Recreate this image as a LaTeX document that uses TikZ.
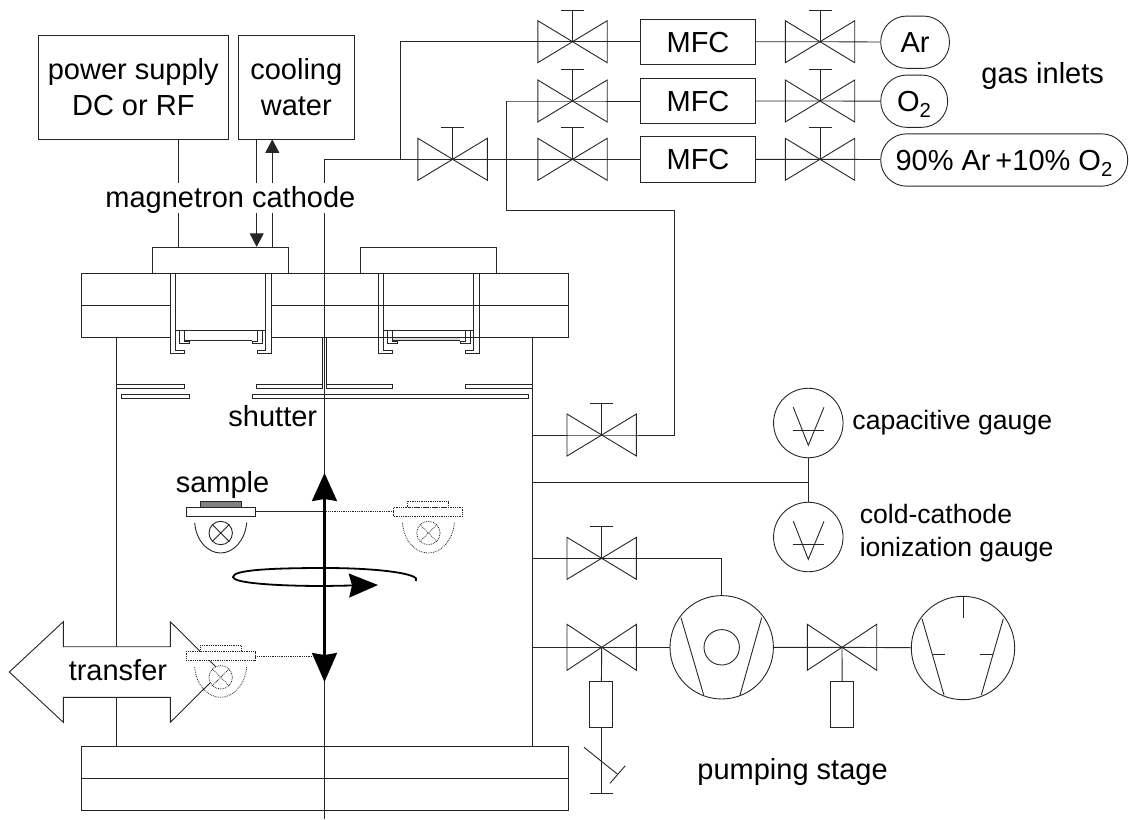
\documentclass[tikz,border=0pt]{standalone}
\usepackage{fontspec}
\setmainfont{Liberation Sans}
\usetikzlibrary{arrows.meta}

\newcommand{\valve}[4]{
    \coordinate (#1) at (#2,#3);
    \draw ([shift={(-34.7,-#4)}]#1) -- ([shift={(34.7,#4)}]#1) -- ([shift={(34.7,-#4)}]#1) -- ([shift={(-34.7,#4)}]#1) -- cycle;
}
\newcommand{\knob}[1]{
    \draw (#1) -- ([shift={(0,-31.7)}]#1);
    \draw ([shift={(-11.5,-31.7)}]#1) -- ([shift={(11.5,-31.7)}]#1);
}
\newcommand{\holder}[5]{
    \begin{scope}[shift={(#2,#3)},#4]
        \node[tray] (#1) at (220.5,511.7) {};
        \draw[fill=#5] (200,501) rectangle (241,507.3);
        \draw (194.7,522.7) .. controls (196,541) and (208,553) .. (220.7,553) .. controls (233,553) and (245,541) .. (246.7,522.7);
        \node[wheel] (#1w) at (220.7,533) {};
        \draw (#1w.45) -- (#1w.225);
        \draw (#1w.135) -- (#1w.-45);
    \end{scope}
}

\begin{document}
\begin{tikzpicture}[
    x=1pt, y=-1pt,
    line width=0.9pt, black!85,
    box/.style={rectangle, draw, inner sep=0pt, text=black, align=center},
    mfc/.style={box, minimum width=115pt, minimum height=45.4pt, text height=20.8pt, text depth=0pt},
    bottle/.style={box, rounded corners=26pt, minimum height=52.3pt, text height=20.8pt, text depth=0pt},
    pump/.style={circle, draw, inner sep=0pt, minimum size=103.4pt},
    gauge/.style={circle, draw, inner sep=0pt, minimum size=69.5pt},
    stub/.style={rectangle, draw, inner sep=0pt, minimum width=23pt, minimum height=45.6pt},
    tray/.style={rectangle, draw, fill=white, inner sep=0pt, minimum width=69pt, minimum height=8.7pt},
    wheel/.style={circle, draw, fill=white, inner sep=0pt, minimum size=23.4pt},
    label/.style={anchor=base west, inner sep=0pt, text=black},
    ghost/.style={densely dotted, line width=0.8pt},
    thinflow/.style={-{Triangle[length=13.5pt,width=14pt]}},
    motion/.style={line width=2.2pt, black},
    font=\fontsize{29}{36}\selectfont
]
    \useasboundingbox (0,0) rectangle (1129,819);
    % Supplies
    \node[box, minimum width=189.6pt, minimum height=103.3pt] (power) at (133.3,87.3) {power supply\\DC or RF};
    \node[box, minimum width=116pt, minimum height=103.3pt] (water) at (296.3,87.3) {cooling\\water};
    % Chamber
    \draw (116.7,337.7) -- (116.7,746);
    \draw (532.7,337.7) -- (532.7,746);
    \draw (81.3,273.7) rectangle (568.7,337.7);
    \draw (81.3,305.7) -- (568.7,305.7);
    \draw (81.3,746.5) rectangle (568.7,810);
    \draw (81.3,778.5) -- (568.7,778.5);
    \node[box, minimum width=136.4pt, minimum height=26.4pt] (plate1) at (220.5,260.5) {};
    \node[box, minimum width=136.4pt, minimum height=26.4pt] (plate2) at (428.5,260.5) {};
    % Cathodes
    \fill[white] (170.7,274.2) rectangle (271,353);
    \foreach \xs in {0,208} {
        \begin{scope}[shift={(\xs,0)}]
            \draw (170.7,273.7) -- (170.7,353.3) -- (184.7,353.3) -- (184.7,350.3) -- (175.7,350.3) -- (175.7,273.7);
            \draw (271,273.7) -- (271,353.3) -- (257,353.3) -- (257,350.3) -- (265.7,350.3) -- (265.7,273.7);
            \draw (175.7,330) -- (265.7,330);
            \draw (179.3,330) -- (179.3,343.7) -- (189.7,343.7) -- (189.7,341) -- (184.7,341) -- (184.7,330);
            \draw (262.4,330) -- (262.4,343.7) -- (252,343.7) -- (252,341) -- (257,341) -- (257,330);
            \draw (184.7,340) -- (252,340);
        \end{scope}
    }
    \fill[black!15] (392.9,338.2) rectangle (459.8,339.6);
    % Shutter and apertures
    \draw (116.7,384) rectangle (184.7,388.3);
    \draw (256.7,384) rectangle (322.3,388.3);
    \draw (326.7,384) rectangle (392.7,388.3);
    \draw (465,384) rectangle (532.7,388.3);
    \draw (121.3,394) rectangle (189.3,398.3);
    \draw (252.3,394) rectangle (528,398.3);
    \draw (322.3,337.7) -- (322.3,384);
    \draw (326.7,337.7) -- (326.7,384);
    % Gas lines
    \coordinate (axis) at (324.5,159.3);
    \coordinate (axisend) at (324.5,819);
    \coordinate (branch) at (400,159.3);
    \coordinate (bendA) at (400,41.7);
    \coordinate (bendB) at (506.6,101);
    \coordinate (bendC) at (506.6,210);
    \coordinate (bendD) at (674.8,210);
    \coordinate (bendE) at (674.8,435);
    \coordinate (wallE) at (532.7,435);
    \draw (axis) -- (axisend);
    \valve{vmain}{452.6}{159.3}{21}
    \knob{vmain}
    \foreach \row/\yy in {a/41.7,b/101,c/159.3} {
        \valve{vin\row}{572.5}{\yy}{21}
        \knob{vin\row}
        \valve{vout\row}{820}{\yy}{21}
        \knob{vout\row}
        \node[mfc] (mfc\row) at (698,\yy) {MFC};
    }
    \node[bottle, minimum width=68.8pt] (gasa) at (915.1,42.2) {Ar};
    \node[bottle, minimum width=66.9pt] (gasb) at (914.2,101.2) {O\textsubscript{2}};
    \node[bottle, minimum width=247pt] (gasc) at (1004.2,160) {90\% Ar\,+10\% O\textsubscript{2}};
    \draw (axis) -- (branch) -- (vmain) -- (vinc) -- (mfcc);
    \draw (branch) -- (bendA) -- (vina) -- (mfca);
    \draw (bendB) -- (vinb) -- (mfcb);
    \foreach \row in {a,b,c} {
        \draw (mfc\row) -- (vout\row) -- (gas\row);
    }
    \valve{vback}{601.7}{435}{21}
    \knob{vback}
    \draw (bendB) -- (bendC) -- (bendD) -- (bendE) -- (vback) -- (wallE);
    % Cathode feeds
    \draw (power.south -| 178.7,0) -- (plate1.north -| 178.7,0);
    \draw[thinflow] (water.south -| 256.7,0) -- (plate1.north -| 256.7,0);
    \draw[thinflow] (plate1.north -| 272.3,0) -- (water.south -| 272.3,0);
    \node[anchor=base west, inner sep=0pt, fill=white, text=black, text height=24.7pt, text depth=5.3pt] (magnetron) at (105,207.7) {magnetron cathode};
    % Gauges
    \node[gauge] (gcap) at (808.3,423) {};
    \node[gauge] (gcold) at (808.3,537) {};
    \foreach \g in {gcap,gcold} {
        \draw ([shift={(-15,-15.7)}]\g.center) -- ([shift={(0,22.3)}]\g.center) -- ([shift={(15.7,-15.7)}]\g.center);
        \draw ([shift={(-15.7,7.7)}]\g.center) -- ([shift={(15.7,7.7)}]\g.center);
    }
    \coordinate (tee) at (808.3,482.7);
    \coordinate (wallG) at (532.7,482.7);
    \draw (gcap) -- (gcold);
    \draw (wallG) -- (tee);
    % Pumping stage
    \valve{vfine}{601.7}{558.3}{21}
    \knob{vfine}
    \valve{vrough}{601.7}{647.3}{23}
    \valve{vfore}{842}{647.3}{23}
    \node[pump] (turbo) at (721.7,647.3) {};
    \node[pump] (fore) at (963,648) {};
    \node[stub] (stubA) at (601.2,704.5) {};
    \node[stub] (stubB) at (842.2,704.5) {};
    \coordinate (wallF) at (532.7,558.3);
    \coordinate (wallR) at (532.7,647.3);
    \coordinate (bendF) at (721.7,558.3);
    \coordinate (vent) at (601.2,793);
    \draw (wallF) -- (vfine) -- (bendF) -- (turbo);
    \draw (wallR) -- (vrough) -- (turbo);
    \draw (turbo) -- (vfore) -- (fore);
    \draw (vrough) -- (stubA);
    \draw (vfore) -- (stubB);
    \draw (stubA) -- (vent);
    \draw (589.7,793) -- (612.7,793);
    \draw (584,747.3) -- (617.3,774);
    \draw (625.3,765.7) -- (610,783.3);
    \draw (681,617.7) -- (703.7,695);
    \draw (761.7,617.7) -- (740,695);
    \node[circle, draw, inner sep=0pt, minimum size=35.4pt] (rotor) at (721.7,647.3) {};
    \draw (963,597) -- (963,618.3);
    \draw (922,618.7) -- (944,695);
    \draw (1003.3,618.7) -- (981.3,695);
    \draw (932.7,654) -- (945.3,654);
    \draw (980,654) -- (993.3,654);
    % Transfer
    \draw[fill=white] (9.3,672) -- (63.3,621.7) -- (63.3,646.7) -- (170.3,646.7) -- (170.3,621.7) -- (221,672) -- (170.3,722.3) -- (170.3,697.3) -- (63.3,697.3) -- (63.3,722.3) -- cycle;
    \node[label] (transfer) at (68.3,680) {transfer};
    % Sample positions
    \holder{hold}{0}{0}{}{black!50}
    \holder{holdB}{207.7}{0}{ghost}{white}
    \holder{holdC}{0}{144.3}{ghost}{white}
    \coordinate (hub) at (324.5,511.7);
    \coordinate (hubC) at (313,656);
    \draw (hold) -- (hub);
    \draw[ghost] (hub) -- (holdB);
    \draw[ghost] (holdC) -- (hubC);
    % Motions
    \coordinate (liftT) at (324.5,473);
    \coordinate (liftB) at (324.5,682);
    \draw[motion, {Stealth[length=28pt,width=25pt,inset=2pt]}-{Stealth[length=29pt,width=25pt,inset=2pt]}] (liftT) -- (liftB);
    \draw[motion, line width=1.8pt, -{Stealth[length=29pt,width=24pt,inset=3pt]}] (416,581) .. controls (422,574) and (380,568) .. (325,568) .. controls (270,568) and (233,570) .. (233,577) .. controls (233,583) and (275,586) .. (325,586) -- (378,585);
    % Labels
    \node[label] (shutter) at (228,426.7) {shutter};
    \node[label] (sample) at (175.3,492.3) {sample};
    \node[label] (inlets) at (981,83.3) {gas inlets};
    \node[label] (pumping) at (697,779.3) {pumping stage};
    \node[label, font=\fontsize{26.6}{33}\selectfont] (capgauge) at (852,429.3) {capacitive gauge};
    \node[label, font=\fontsize{26.6}{33}\selectfont] (coldgauge) at (859.3,523.3) {cold-cathode};
    \node[label, font=\fontsize{26.6}{33}\selectfont] (iongauge) at (859.3,556) {ionization gauge};
\end{tikzpicture}
\end{document}
